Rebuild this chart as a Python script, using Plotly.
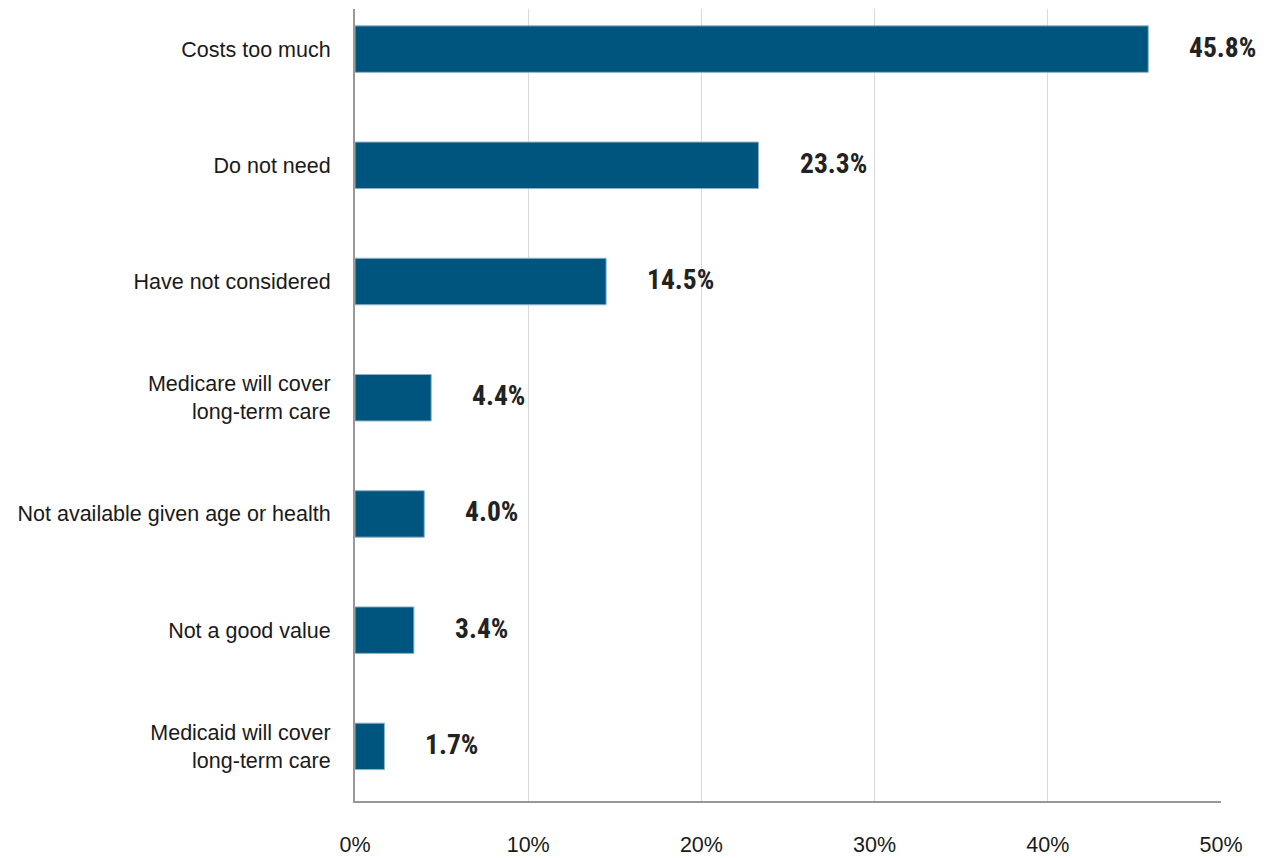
import plotly.graph_objects as go

# Reasons for not buying long-term care insurance
categories = [
    "Costs too much",
    "Do not need",
    "Have not considered",
    "Medicare will cover<br>long-term care",
    "Not available given age or health",
    "Not a good value",
    "Medicaid will cover<br>long-term care",
]
shares = [45.8, 23.3, 14.5, 4.4, 4.0, 3.4, 1.7]
value_labels = ["45.8%", "23.3%", "14.5%", "4.4%", "4.0%", "3.4%", "1.7%"]
x_ticks = [0, 10, 20, 30, 40, 50]
x_tick_labels = ["0%", "10%", "20%", "30%", "40%", "50%"]

BAR = "#00557f"
TEXT = "#1a1a1a"
FONT = "Liberation Sans, Arial, Helvetica, sans-serif"
LABEL_FONT = "Roboto, sans-serif"

fig = go.Figure(
    go.Bar(
        x=shares,
        y=categories,
        orientation="h",
        width=0.4,
        marker=dict(color=BAR, line=dict(color="#8db3cb", width=1)),
        hoverinfo="skip",
    )
)

# condensed bold value labels to the right of each bar
for cat, val, lab in zip(categories, shares, value_labels):
    fig.add_annotation(
        x=val, y=cat, text=f'<span style="font-stretch:75%">{lab}</span>',
        showarrow=False,
        xanchor="left", yanchor="middle", xshift=39, yshift=2,
        font=dict(family=LABEL_FONT, size=27.5, color="#222222", weight="bold"),
    )

fig.update_layout(
    width=1270, height=858,
    margin=dict(l=355, r=49, t=9, b=57, autoexpand=False),
    plot_bgcolor="white", paper_bgcolor="white",
    showlegend=False,
    font=dict(family=FONT, size=21.5, color=TEXT),
    xaxis=dict(
        range=[0, 50], tickvals=x_ticks, ticktext=x_tick_labels,
        showgrid=True, gridcolor="#d9d9d9", gridwidth=1,
        showline=True, linecolor="#999999", linewidth=2,
        zeroline=False, ticks="", ticklabelstandoff=23,
        tickfont=dict(size=21.5, color=TEXT),
        automargin=False, fixedrange=True,
    ),
    yaxis=dict(
        type="category", categoryorder="array", categoryarray=categories,
        range=[6.47, -0.345],
        showgrid=False, showline=True, linecolor="#999999", linewidth=2,
        zeroline=False, ticks="", ticklabelstandoff=18,
        tickfont=dict(size=21.5, color=TEXT),
        automargin=False, fixedrange=True,
    ),
)

fig.write_html("out.html")
